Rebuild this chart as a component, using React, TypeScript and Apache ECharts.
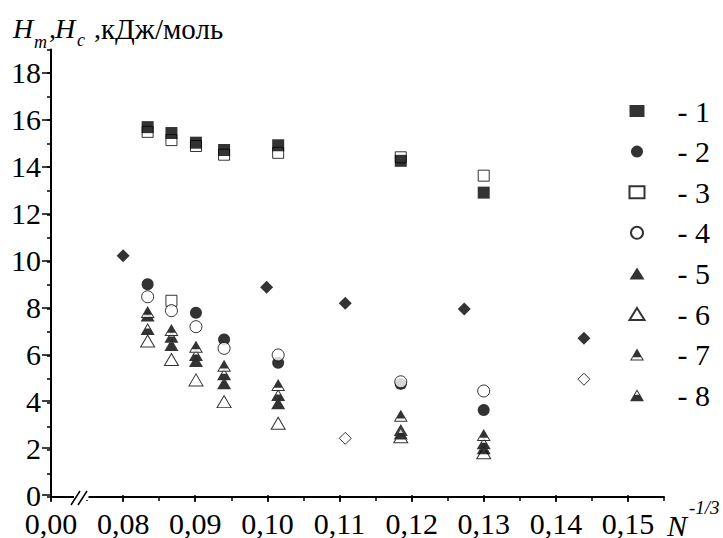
// Enthalpy vs N^-1/3 scatter chart (serif fonts, broken x axis)
import React, { useEffect, useRef } from 'react';
import * as echarts from 'echarts';

const FONT = 'Liberation Serif, Times New Roman, serif';

// x positions (N^-1/3) of the measured columns
const xCols = [0.0834, 0.0867, 0.0901, 0.094, 0.1015, 0.1185, 0.13];
// series 1: filled squares
const s1 = [15.7, 15.45, 15.04, 14.73, 14.93, 14.27, 12.92];
// series 2: filled circles
const xs2 = [0.0834, 0.0901, 0.094, 0.1015, 0.1185, 0.13];
const s2 = [9.03, 7.82, 6.69, 5.7, 4.8, 3.69];
// series 3: open squares
const xs3 = [0.0834, 0.0867, 0.0901, 0.094, 0.1015, 0.1185, 0.13, 0.0867];
const s3 = [15.5, 15.15, 14.9, 14.53, 14.61, 14.42, 13.64, 8.33];
// series 4: open circles
const s4 = [8.5, 7.91, 7.23, 6.31, 6.03, 4.89, 4.5];
// series 5: filled triangles
const s5 = [7.7, 6.45, 5.77, 4.83, 3.98, 2.84, 2.07];
// series 6: open triangles
const s6 = [6.62, 5.84, 4.97, 4.05, 3.13, 2.56, 1.88];
// series 7: triangles with filled top
const s7 = [7.85, 7.09, 6.38, 5.57, 4.75, 3.45, 2.63];
// series 8: triangles with filled bottom
const s8 = [7.13, 6.8, 6.03, 5.21, 4.33, 2.7, 2.28];
// diamonds (not in legend)
const xdFilled = [0.08, 0.0999, 0.1108, 0.1273, 0.1439];
const dFilled = [10.24, 8.9, 8.22, 7.98, 6.74];
const xdOpen = [0.1108, 0.1439];
const dOpen = [2.49, 5.0];

const legendNames = ['1', '2', '3', '4', '5', '6', '7', '8'];

const TRI7 = 'path://M50,0L100,86L0,86Z M50,14L12,79L88,79Z M50,0L86,62L14,62Z';
const TRI8 = 'path://M50,0L100,86L0,86Z M50,14L12,79L88,79Z M26.7,40L73.3,40L100,86L0,86Z';

function zip(xs: number[], ys: number[]) {
  return xs.map((x, i) => [x, ys[i]]);
}

export default function App() {
  const ref = useRef<HTMLDivElement>(null);
  useEffect(() => {
    const chart = echarts.init(ref.current as HTMLDivElement, null, { renderer: 'svg' });
    const black = { color: '#000' };
    const open = { color: '#fff', borderColor: '#000', borderWidth: 1 };
    const white = { color: '#fff' };
    const sc = (name: string, data: number[][], symbol: string, size: any, itemStyle: any) => ({
      type: 'scatter',
      name,
      data,
      symbol,
      symbolSize: size,
      itemStyle,
      xAxisIndex: 0,
      yAxisIndex: 0,
    });
    const triSize = [14, 12];
    const fmtX = (v: number) => {
      if (Math.abs(v - 0.07) < 1e-9) return '0,00';
      return v.toFixed(2).replace('.', ',');
    };
    const lineStyle = { color: '#000', width: 2 };
    const tickStyle = { color: '#000', width: 1.5 };
    const txt = (text: string, x: number, y: number, size: number, italic: boolean) => ({
      type: 'text',
      x,
      y,
      style: italic
        ? { text, fontFamily: FONT, fontSize: size, fontStyle: 'italic', fill: '#000' }
        : { text, fontFamily: FONT, fontSize: size, fill: '#000' },
    });
    const option: any = {
      animation: false,
      textStyle: { fontFamily: FONT },
      grid: [
        { left: 51, right: 59, top: 49.4, bottom: 41 },
        { left: 51, right: 95, top: 72.96, bottom: 41 },
      ],
      xAxis: [
        {
          gridIndex: 0, type: 'value', min: 0.07, max: 0.155, interval: 0.005,
          axisLine: { show: true, onZero: false, lineStyle },
          axisTick: { show: true, length: 4, lineStyle: tickStyle },
          axisLabel: { show: false },
          splitLine: { show: false },
        },
        {
          gridIndex: 1, type: 'value', min: 0.07, max: 0.15, interval: 0.01,
          axisLine: { show: false, onZero: false },
          axisTick: { show: true, length: 7, lineStyle: tickStyle },
          axisLabel: { fontFamily: FONT, fontSize: 30, color: '#000', margin: 13, formatter: fmtX },
          splitLine: { show: false },
        },
      ],
      yAxis: [
        {
          gridIndex: 0, type: 'value', min: 0, max: 19, interval: 1,
          axisLine: { show: true, onZero: false, lineStyle },
          axisTick: { show: true, length: 4, lineStyle: tickStyle },
          axisLabel: { show: false },
          splitLine: { show: false },
        },
        {
          gridIndex: 1, type: 'value', min: 0, max: 18, interval: 2,
          axisLine: { show: false, onZero: false },
          axisTick: { show: true, length: 9, lineStyle: tickStyle },
          axisLabel: { fontFamily: FONT, fontSize: 30, color: '#000', margin: 10 },
          splitLine: { show: false },
        },
      ],
      legend: {
        data: legendNames,
        orient: 'vertical',
        left: 628.5,
        top: 96,
        padding: 0,
        itemWidth: 15,
        itemHeight: 12,
        itemGap: 10.6,
        selectedMode: false,
        formatter: '- {name}',
        textStyle: { fontFamily: FONT, fontSize: 30, lineHeight: 30, color: '#000', padding: [0, 0, 0, 28] },
      },
      series: [
        sc('3', zip(xs3, s3), 'rect', 11, open),
        sc('1', zip(xCols, s1), 'rect', 12, black),
        sc('2', zip(xs2, s2), 'circle', 12, black),
        sc('4', zip(xCols, s4), 'circle', 12, open),
        sc('d1', zip(xdFilled, dFilled), 'diamond', 13, black),
        sc('d2', zip(xdOpen, dOpen), 'diamond', 12, open),
        sc('6', zip(xCols, s6), 'triangle', triSize, open),
        sc('5', zip(xCols, s5), 'triangle', triSize, black),
        sc('bg8', zip(xCols, s8), 'triangle', triSize, white),
        sc('8', zip(xCols, s8), TRI8, triSize, black),
        sc('bg7', zip(xCols, s7), 'triangle', triSize, white),
        sc('7', zip(xCols, s7), TRI7, triSize, black),
      ],
      graphic: [
        { type: 'rect', z: 100, shape: { x: 74, y: 494, width: 14.5, height: 6 }, style: { fill: '#fff' } },
        { type: 'line', z: 101, shape: { x1: 71, y1: 505, x2: 80, y2: 491 }, style: { stroke: '#000', lineWidth: 1.5 } },
        { type: 'line', z: 101, shape: { x1: 78, y1: 505, x2: 87, y2: 491 }, style: { stroke: '#000', lineWidth: 1.5 } },
        txt('H', 13, 14.5, 28, true),
        txt('m', 34, 33, 18, true),
        txt(',', 49, 14.5, 28, false),
        txt('H', 55, 14.5, 28, true),
        txt('c', 77, 31, 18, true),
        txt(',', 94, 14.5, 28, false),
        txt('кДж/моль', 101, 14.5, 29, false),
        txt('N', 667, 510, 30, true),
        txt('-1/3', 689, 498, 19, true),
      ],
    };
    chart.setOption(option);
    return () => chart.dispose();
  }, []);
  return (
    <div
      ref={ref}
      style={{ position: 'absolute', left: 0, top: 0, width: 723, height: 538, background: '#fff', fontFamily: 'Times New Roman' }}
    />
  );
}
